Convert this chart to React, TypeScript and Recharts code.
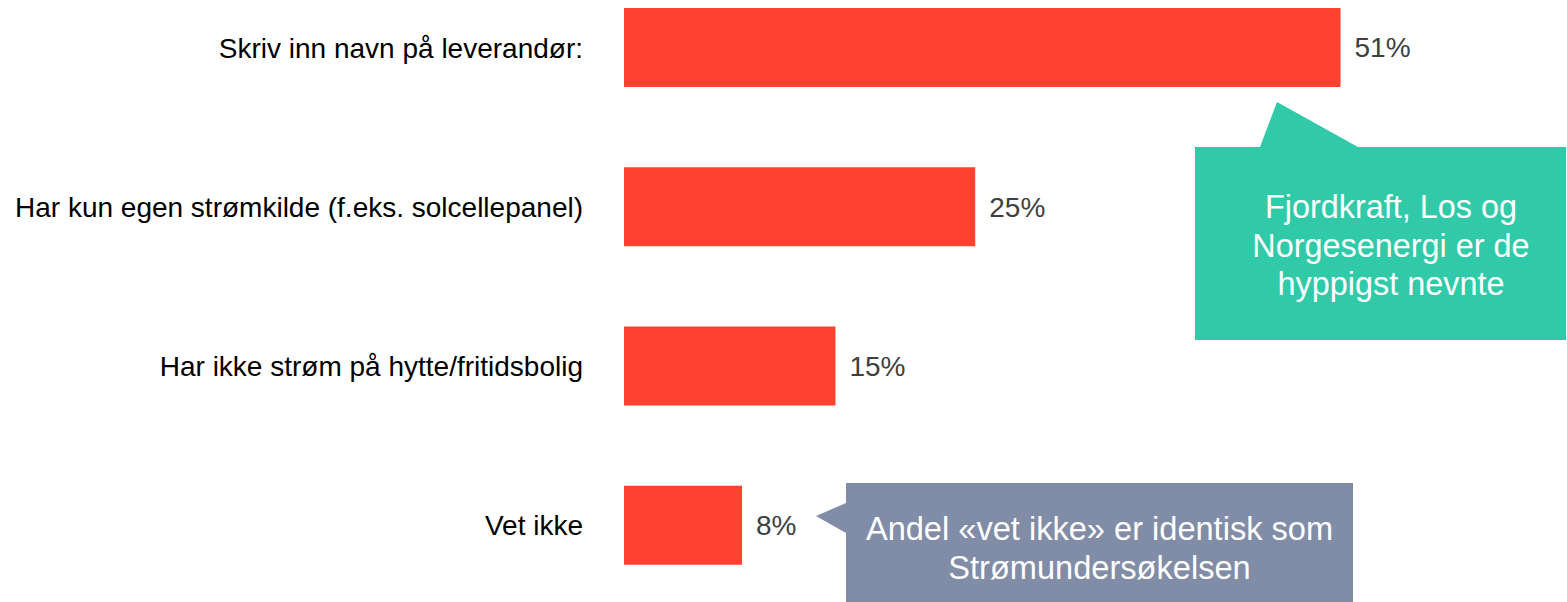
import React from "react";
import { BarChart, Bar, XAxis, YAxis, LabelList } from "recharts";

const categories = [
  "Skriv inn navn på leverandør:",
  "Har kun egen strømkilde (f.eks. solcellepanel)",
  "Har ikke strøm på hytte/fritidsbolig",
  "Vet ikke",
];
const shares = [51, 25, 15.05, 8.4];
const shareLabels = ["51%", "25%", "15%", "8%"];

const tealNote = ["Fjordkraft, Los og", "Norgesenergi er de", "hyppigst nevnte"];
const grayNote = ["Andel «vet ikke» er identisk som", "Strømundersøkelsen"];

const FONT = "Arial, 'Liberation Sans', sans-serif";

export default function App() {
  const data = categories.map((name, i) => ({
    name,
    value: shares[i],
    label: shareLabels[i],
  }));

  return (
    <div
      style={{
        position: "absolute",
        left: 0,
        top: 0,
        width: 1567,
        height: 602,
        overflow: "hidden",
        background: "#fff",
        fontFamily: FONT,
      }}
    >
      {/* chart sits a bit above the page so the bands line up */}
      <div style={{ position: "absolute", left: 0, top: -32 }}>
        <BarChart
          width={1567}
          height={637}
          data={data}
          layout="vertical"
          margin={{ top: 0, right: 100, bottom: 0, left: 0 }}
        >
          <XAxis type="number" domain={[0, 60]} hide />
          <YAxis
            type="category"
            dataKey="name"
            width={624}
            axisLine={false}
            tickLine={false}
            tickSize={0}
            tickMargin={41}
            tick={{ fontSize: 28, fill: "#000", fontFamily: FONT }}
          />
          <Bar dataKey="value" fill="#FF4130" barSize={79} isAnimationActive={false}>
            <LabelList
              dataKey="label"
              position="right"
              offset={14}
              style={{ fontSize: 28, fill: "#404040", fontFamily: FONT }}
            />
          </Bar>
        </BarChart>
      </div>

      {/* callouts */}
      <svg
        width={1567}
        height={602}
        style={{ position: "absolute", left: 0, top: 0 }}
        fontFamily={FONT}
      >
        <path
          d="M1195,147 L1260,147 L1277,102 L1358,147 L1566,147 L1566,340 L1195,340 Z"
          fill="#31CAA8"
        />
        {tealNote.map((t, i) => (
          <text
            key={t}
            x={1391}
            y={218 + i * 38.5}
            textAnchor="middle"
            fontSize={32.4}
            fill="#fff"
          >
            {t}
          </text>
        ))}
        <path
          d="M846,483 L1353,483 L1353,602 L846,602 L846,533 L816,516 L846,503 Z"
          fill="#818DA6"
        />
        {grayNote.map((t, i) => (
          <text
            key={t}
            x={1099.5}
            y={540 + i * 38.5}
            textAnchor="middle"
            fontSize={32.6}
            fill="#fff"
          >
            {t}
          </text>
        ))}
      </svg>
    </div>
  );
}
